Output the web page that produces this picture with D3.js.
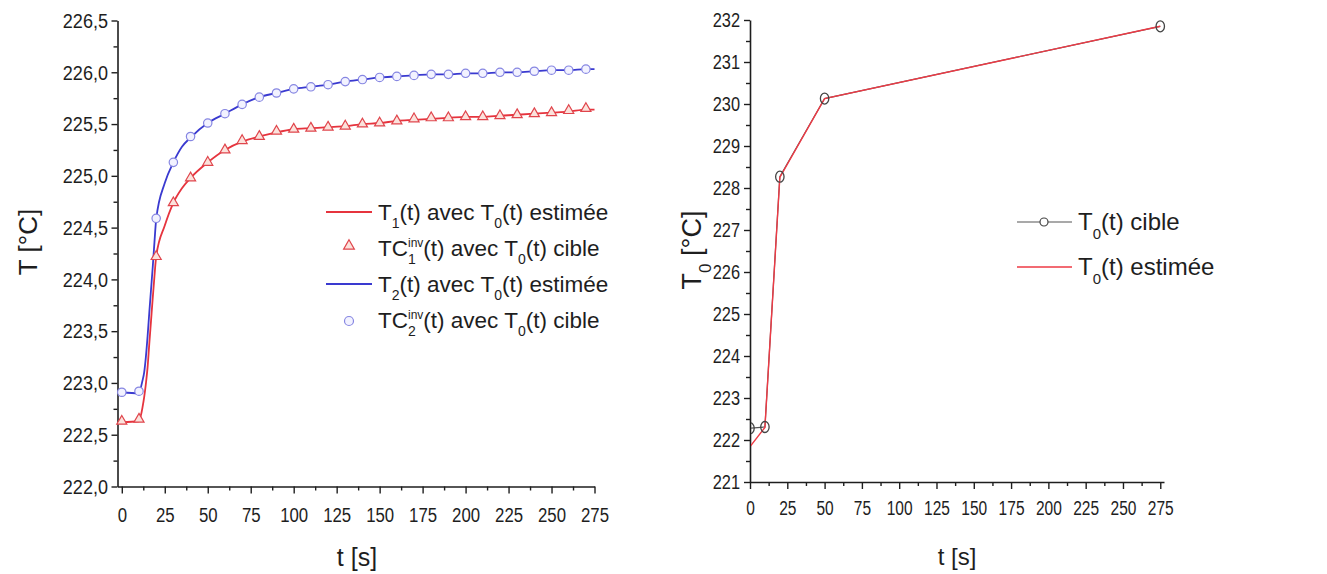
<!DOCTYPE html>
<html><head><meta charset="utf-8">
<script src="https://cdn.jsdelivr.net/npm/d3@7"></script>
<style>
body{margin:0;background:#fff}
svg{display:block;font-family:"Liberation Sans",Arial,sans-serif}
</style>
</head><body>
<svg id="c" width="1327" height="574"></svg>
<script>
// ---------- data (left panel) ----------
const markerTimes = [0,10,20,30,40,50,60,70,80,90,100,110,120,130,140,150,160,170,180,190,200,210,220,230,240,250,260,270];
const tc1Values = [222.63,222.65,224.22,224.74,224.98,225.13,225.25,225.34,225.38,225.43,225.45,225.46,225.47,225.48,225.50,225.51,225.53,225.55,225.56,225.56,225.57,225.57,225.58,225.59,225.60,225.61,225.63,225.65];
const tc2Values = [222.91,222.92,224.59,225.13,225.38,225.51,225.60,225.69,225.76,225.80,225.84,225.86,225.88,225.91,225.93,225.95,225.96,225.97,225.98,225.98,225.99,225.99,226.00,226.00,226.01,226.02,226.02,226.03];
const lineTimes = [0,10,11,12,13,14,15,16,17,18,19,20,25,30,35,40,50,60,70,80,90,100,110,120,130,140,150,160,170,180,190,200,210,220,230,240,250,260,270,275];
const t1Values = [222.62,222.63,222.68,222.76,222.86,222.99,223.15,223.38,223.60,223.82,224.03,224.22,224.52,224.74,224.88,224.98,225.13,225.25,225.33,225.38,225.42,225.45,225.46,225.47,225.48,225.50,225.51,225.53,225.54,225.55,225.56,225.57,225.57,225.58,225.59,225.60,225.61,225.62,225.64,225.64];
const t2Values = [222.91,222.90,222.95,223.02,223.10,223.25,223.45,223.68,223.90,224.12,224.36,224.58,224.93,225.13,225.28,225.37,225.51,225.60,225.69,225.76,225.80,225.84,225.86,225.88,225.91,225.93,225.95,225.96,225.97,225.98,225.98,225.99,225.99,226.00,226.00,226.01,226.02,226.02,226.03,226.03];
const leftXTicks = [0,25,50,75,100,125,150,175,200,225,250,275];
const leftXMinor = [12.5,37.5,62.5,87.5,112.5,137.5,162.5,187.5,212.5,237.5,262.5];
const leftYTicks = [222.0,222.5,223.0,223.5,224.0,224.5,225.0,225.5,226.0,226.5];
const leftYMinor = [222.25,222.75,223.25,223.75,224.25,224.75,225.25,225.75,226.25];

// ---------- data (right panel) ----------
const rightTimes = [0,10,20,50,275];
const t0Cible = [222.28,222.31,228.27,230.13,231.85];
const t0Estimee = [221.84,222.30,228.25,230.13,231.85];
const rightXTicks = [0,25,50,75,100,125,150,175,200,225,250,275];
const rightXMinor = [12.5,37.5,62.5,87.5,112.5,137.5,162.5,187.5,212.5,237.5,262.5];
const rightYTicks = [221,222,223,224,225,226,227,228,229,230,231,232];
const rightYMinor = [221.5,222.5,223.5,224.5,225.5,226.5,227.5,228.5,229.5,230.5,231.5];

const svg = d3.select("#c");
const AX = "#1e1e1e";

function styleAxis(g){
  g.selectAll("path.domain").attr("stroke", AX).attr("stroke-width", 1.6);
  g.selectAll(".tick line").attr("stroke", AX).attr("stroke-width", 1.4);
}
function condenseX(g, fs, sx, pad){
  g.selectAll(".tick text").attr("fill", AX).attr("font-size", fs)
    .attr("font-family", '"Liberation Sans",Arial,sans-serif')
    .attr("y", 0).attr("dy", "0.71em")
    .attr("transform", `translate(0,${pad}) scale(${sx},1)`);
}
function condenseY(g, fs, sx, off){
  g.selectAll(".tick text").attr("fill", AX).attr("font-size", fs)
    .attr("font-family", '"Liberation Sans",Arial,sans-serif')
    .attr("x", 0).attr("transform", `translate(${-off},0) scale(${sx},1)`);
}

// rich text helper with sub / stacked sup+sub
function rich(g, x, y, parts, fs, opts={}){
  const txt = g.append("text").attr("x", x).attr("y", y).attr("font-size", fs).attr("fill", AX);
  if (opts.anchor) txt.attr("text-anchor", opts.anchor);
  if (opts.transform) txt.attr("transform", opts.transform);
  const subFs = Math.round(fs*0.62), supFs = Math.round(fs*0.52);
  const subDy = Math.round(fs*0.36), supUp = Math.round(fs*0.4);
  let pdx = 0, pdy = 0;
  const add = (str, size) => {
    const ts = txt.append("tspan").text(str);
    if (size) ts.attr("font-size", size);
    if (pdx) ts.attr("dx", pdx);
    if (pdy) ts.attr("dy", pdy);
    pdx = 0; pdy = 0;
    return ts;
  };
  parts.forEach(p=>{
    if (p.sub){ pdy += subDy; add(p.t, subFs); pdy -= subDy; }
    else if (p.stack){
      pdy -= supUp; const s = add(p.sup, supFs);
      const w1 = s.node().getComputedTextLength();
      pdx = -w1; pdy += supUp + subDy;
      const b = add(p.sub2, subFs);
      const w2 = b.node().getComputedTextLength();
      pdx = Math.max(0, w1 - w2); pdy -= subDy;
    }
    else add(p.t);
  });
  return txt;
}

// ================= LEFT PANEL =================
const xL = d3.scaleLinear([-2.5, 275], [117.5, 594.5]);
const yL = d3.scaleLinear([222, 226.5], [486.5, 20.5]);
const L = svg.append("g");

L.append("g").attr("transform","translate(0,486.5)")
  .call(d3.axisBottom(xL).tickValues(leftXMinor).tickSize(4).tickFormat("").tickSizeOuter(0))
  .call(g=>{g.select(".domain").remove(); styleAxis(g);});
L.append("g").attr("transform","translate(117.5,0)")
  .call(d3.axisLeft(yL).tickValues(leftYMinor).tickSize(4).tickFormat("").tickSizeOuter(0))
  .call(g=>{g.select(".domain").remove(); styleAxis(g);});
L.append("g").attr("transform","translate(0,486.5)")
  .call(d3.axisBottom(xL).tickValues(leftXTicks).tickSize(7).tickSizeOuter(0).tickFormat(d3.format("d")))
  .call(g=>{styleAxis(g); condenseX(g, 21, 0.8, 21);});
L.append("g").attr("transform","translate(117.5,0)")
  .call(d3.axisLeft(yL).tickValues(leftYTicks).tickSize(6).tickSizeOuter(0).tickFormat(d=>d.toFixed(1).replace(".",",")))
  .call(g=>{styleAxis(g); condenseY(g, 21, 0.86, 9.5);});

const lineL = d3.line().x(d=>xL(d[0])).y(d=>yL(d[1])).curve(d3.curveMonotoneX);
L.append("path").datum(lineTimes.map((t,i)=>[t,t1Values[i]]))
  .attr("d", lineL).attr("fill","none").attr("stroke","#e6343e").attr("stroke-width",1.8);
L.append("path").datum(lineTimes.map((t,i)=>[t,t2Values[i]]))
  .attr("d", lineL).attr("fill","none").attr("stroke","#3a3ad0").attr("stroke-width",1.8);

const tri = d3.symbol().type(d3.symbolTriangle).size(44);
L.append("g").selectAll("path").data(markerTimes.map((t,i)=>[t,tc1Values[i]])).join("path")
  .attr("d", tri).attr("transform", d=>`translate(${xL(d[0])},${yL(d[1])})`)
  .attr("fill","#fbe2dc").attr("stroke","#e0454c").attr("stroke-width",1.2);
L.append("g").selectAll("circle").data(markerTimes.map((t,i)=>[t,tc2Values[i]])).join("circle")
  .attr("cx", d=>xL(d[0])).attr("cy", d=>yL(d[1])).attr("r", 4.2)
  .attr("fill","#f2f2ff").attr("stroke","#8686e2").attr("stroke-width",1.2);

L.append("text").attr("transform","translate(37,242) rotate(-90)").attr("text-anchor","middle")
  .attr("font-size",26).attr("fill",AX).text("T [°C]");
L.append("text").attr("x",357).attr("y",566).attr("text-anchor","middle")
  .attr("font-size",25).attr("fill",AX).text("t [s]");

// legend
const LG = L.append("g");
const lfs = 22.5;
LG.append("line").attr("x1",326).attr("x2",372).attr("y1",212).attr("y2",212).attr("stroke","#e6343e").attr("stroke-width",1.8);
rich(LG, 378, 220, [{t:"T"},{t:"1",sub:true},{t:"(t) avec T"},{t:"0",sub:true},{t:"(t) estimée"}], lfs);
LG.append("path").attr("d", d3.symbol().type(d3.symbolTriangle).size(50)).attr("transform","translate(349,246)")
  .attr("fill","#fbe2dc").attr("stroke","#e0454c").attr("stroke-width",1.2);
rich(LG, 378, 256, [{t:"TC"},{stack:true,sup:"inv",sub2:"1"},{t:"(t) avec T"},{t:"0",sub:true},{t:"(t) cible"}], lfs);
LG.append("line").attr("x1",326).attr("x2",372).attr("y1",284).attr("y2",284).attr("stroke","#3a3ad0").attr("stroke-width",1.8);
rich(LG, 378, 292, [{t:"T"},{t:"2",sub:true},{t:"(t) avec T"},{t:"0",sub:true},{t:"(t) estimée"}], lfs);
LG.append("circle").attr("cx",349).attr("cy",321).attr("r",4.5)
  .attr("fill","#f2f2ff").attr("stroke","#8686e2").attr("stroke-width",1.2);
rich(LG, 378, 328, [{t:"TC"},{stack:true,sup:"inv",sub2:"2"},{t:"(t) avec T"},{t:"0",sub:true},{t:"(t) cible"}], lfs);

// ================= RIGHT PANEL =================
const xR = d3.scaleLinear([0, 277.5], [750, 1164]);
const yR = d3.scaleLinear([221, 232], [482, 20]);
const R = svg.append("g");

R.append("g").attr("transform","translate(0,482)")
  .call(d3.axisBottom(xR).tickValues(rightXMinor).tickSize(4).tickFormat("").tickSizeOuter(0))
  .call(g=>{g.select(".domain").remove(); styleAxis(g);});
R.append("g").attr("transform","translate(750,0)")
  .call(d3.axisLeft(yR).tickValues(rightYMinor).tickSize(4).tickFormat("").tickSizeOuter(0))
  .call(g=>{g.select(".domain").remove(); styleAxis(g);});
R.append("g").attr("transform","translate(0,482)")
  .call(d3.axisBottom(xR).tickValues(rightXTicks).tickSize(7).tickSizeOuter(0).tickFormat(d3.format("d")))
  .call(g=>{styleAxis(g); condenseX(g, 21, 0.74, 18);});
R.append("g").attr("transform","translate(750,0)")
  .call(d3.axisLeft(yR).tickValues(rightYTicks).tickSize(6).tickSizeOuter(0).tickFormat(d3.format("d")))
  .call(g=>{styleAxis(g); condenseY(g, 21, 0.78, 10);});

svg.append("defs").append("clipPath").attr("id","clipR")
  .append("rect").attr("x",751).attr("y",10).attr("width",420).attr("height",472);
const RD = R.append("g").attr("clip-path","url(#clipR)");
const lineR = d3.line().x(d=>xR(d[0])).y(d=>yR(d[1]));
RD.append("path").datum(rightTimes.map((t,i)=>[t,t0Cible[i]]))
  .attr("d", lineR).attr("fill","none").attr("stroke","#555").attr("stroke-width",1.2);
RD.append("path").datum(rightTimes.map((t,i)=>[t,t0Estimee[i]]))
  .attr("d", lineR).attr("fill","none").attr("stroke","#ee3a45").attr("stroke-width",1.4);
RD.append("g").selectAll("ellipse").data(rightTimes.map((t,i)=>[t,t0Cible[i]])).join("ellipse")
  .attr("cx", d=>xR(d[0])).attr("cy", d=>yR(d[1])).attr("rx",4.2).attr("ry",5.5)
  .attr("fill","none").attr("stroke","#444").attr("stroke-width",1.3);

R.append("text").attr("x",957).attr("y",565).attr("text-anchor","middle")
  .attr("font-size",24).attr("fill",AX).text("t [s]");
rich(R, 0, 0, [{t:"T"},{t:"0",sub:true},{t:" [°C]"}], 27, {anchor:"middle", transform:"translate(701,250) rotate(-90)"});

// right legend
const RG = R.append("g");
RG.append("line").attr("x1",1017).attr("x2",1072).attr("y1",222).attr("y2",222).attr("stroke","#555").attr("stroke-width",1.2);
RG.append("circle").attr("cx",1044).attr("cy",222).attr("r",4).attr("fill","#fff").attr("stroke","#444").attr("stroke-width",1.2);
rich(RG, 1078, 230, [{t:"T"},{t:"0",sub:true},{t:"(t) cible"}], 24);
RG.append("line").attr("x1",1017).attr("x2",1072).attr("y1",267).attr("y2",267).attr("stroke","#ee3a45").attr("stroke-width",1.4);
rich(RG, 1078, 275, [{t:"T"},{t:"0",sub:true},{t:"(t) estimée"}], 24);
</script>
</body></html>
